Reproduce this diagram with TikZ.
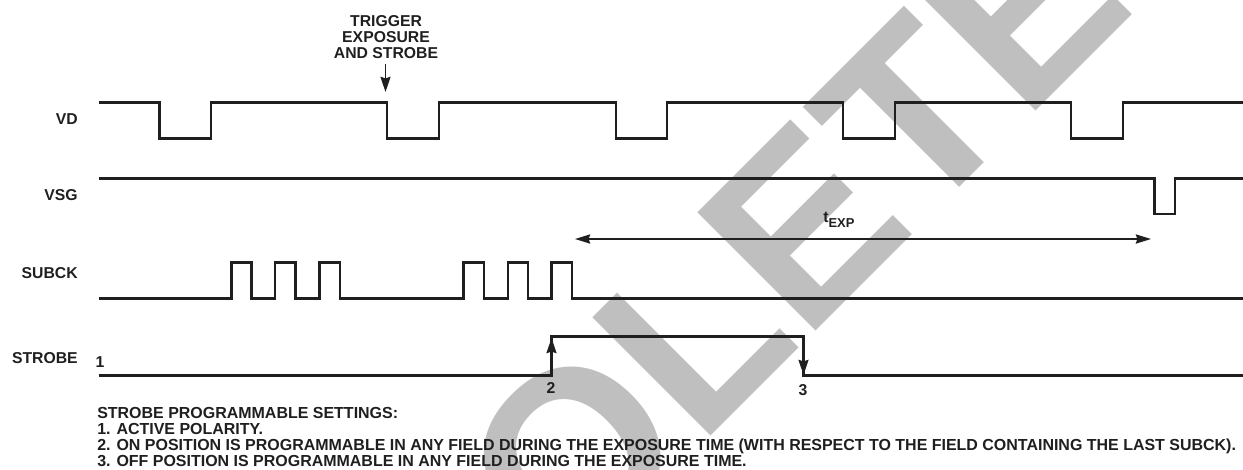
\documentclass[tikz,border=0pt]{standalone}
\usepackage{fontspec}
\setmainfont{Liberation Sans}
\usepackage{xcolor}
\usepackage{tikz}
\usetikzlibrary{arrows.meta,positioning}

\begin{document}
\begin{tikzpicture}[
      x=0.025cm, y=-0.025cm,
      signal/.style={line width=1.7pt, line join=miter, draw=black!88},
      timespan/.style={{Stealth[length=3.8mm, width=2.3mm, inset=0.4mm]}-{Stealth[length=3.8mm, width=2.3mm, inset=0.4mm]}, line width=1.2pt, draw=black!88},
      point/.style={-{Stealth[length=3.8mm, width=2.5mm, inset=0.4mm]}, line width=1.1pt, draw=black!88},
      txt/.style={font=\fontsize{11.2}{11.4}\selectfont\bfseries, text=black!88, inner sep=0pt, align=center},
      sigtag/.style={txt, anchor=east},
      note/.style={txt, anchor=north west, align=left, font=\fontsize{11.36}{11.4}\selectfont\bfseries},
      stamp/.style={font=\fontsize{172.8}{172.8}\selectfont\bfseries, text=black!25, inner sep=0pt, rotate=45, anchor=base}
    ]
    \useasboundingbox (0,0) rectangle (1243,469);
    \begin{scope}
      \clip (0,0) rectangle (1243,469);
      \node[stamp] (obsolete) at (666,481) {OBSOLETE};
    \end{scope}

    \node[sigtag] (vd) at (78,119.5) {VD};
    \node[sigtag] (vsg) at (78,195) {VSG};
    \node[sigtag] (subck) at (78,273) {SUBCK};
    \node[sigtag] (strobe) at (78,358) {STROBE};

    \draw[signal] (99,102.5) -- (159.5,102.5) -- (159.5,138.5) -- (211,138.5) -- (211,102.5)
      -- (387,102.5) -- (387,138.5) -- (439,138.5) -- (439,102.5)
      -- (616,102.5) -- (616,138.5) -- (667,138.5) -- (667,102.5)
      -- (843,102.5) -- (843,138.5) -- (895,138.5) -- (895,102.5)
      -- (1071,102.5) -- (1071,138.5) -- (1123,138.5) -- (1123,102.5) -- (1243,102.5);
    \draw[signal] (99,178.5) -- (1154.5,178.5) -- (1154.5,214) -- (1175,214) -- (1175,178.5) -- (1243,178.5);
    \draw[signal] (99,298.5) -- (231.5,298.5) -- (231.5,262.5) -- (251.5,262.5) -- (251.5,298.5)
      -- (275,298.5) -- (275,262.5) -- (295.5,262.5) -- (295.5,298.5)
      -- (319.5,298.5) -- (319.5,262.5) -- (340,262.5) -- (340,298.5)
      -- (463.5,298.5) -- (463.5,262.5) -- (484,262.5) -- (484,298.5)
      -- (508,298.5) -- (508,262.5) -- (528,262.5) -- (528,298.5)
      -- (551.5,298.5) -- (551.5,262.5) -- (572,262.5) -- (572,298.5) -- (1243,298.5);
    \draw[signal] (99,375.5) -- (551.5,375.5) -- (551.5,336.5) -- (803.5,336.5) -- (803.5,375.5) -- (1243,375.5);

    \coordinate (onstart) at (551.5,375);
    \coordinate (ontip) at (551.5,338);
    \coordinate (offstart) at (803.5,337);
    \coordinate (offtip) at (803.5,375);
    \draw[point] (onstart) -- (ontip);
    \draw[point] (offstart) -- (offtip);

    \node[txt] (trigger) at (386,37.5) {TRIGGER\\EXPOSURE\\AND STROBE};
    \coordinate (triggertip) at (385.5,92);
    \coordinate (triggerstart) at (385.5,64);
    \draw[point] (triggerstart) -- (triggertip);

    \coordinate (expleft) at (575,239);
    \coordinate (expright) at (1151,239);
    \draw[timespan] (expleft) -- (expright);
    \node[txt, anchor=west] (texp) at (823,220) {t\raisebox{-4pt}{\fontsize{9.2}{9.2}\selectfont EXP}};

    \node[txt] (one) at (100,362) {1};
    \node[txt] (two) at (551,388) {2};
    \node[txt] (three) at (803,390) {3};

    \node[note] (settings) at (97,407) {STROBE PROGRAMMABLE SETTINGS:\\
      1. ACTIVE POLARITY.\\
      2. ON POSITION IS PROGRAMMABLE IN ANY FIELD DURING THE EXPOSURE TIME (WITH RESPECT TO THE FIELD CONTAINING THE LAST SUBCK).\\
      3. OFF POSITION IS PROGRAMMABLE IN ANY FIELD DURING THE EXPOSURE TIME.};
  \end{tikzpicture}
\end{document}
